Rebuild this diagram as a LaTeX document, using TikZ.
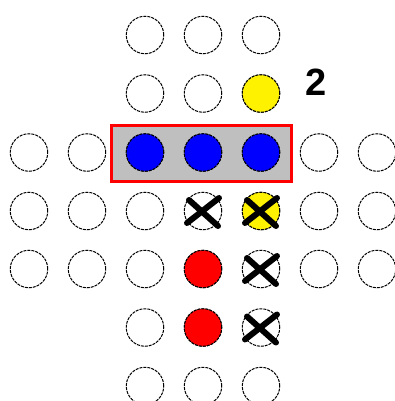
\documentclass[tikz,border=0pt]{standalone}
\usepackage{fontspec}
\setmainfont{Liberation Sans}
\begin{document}
\begin{tikzpicture}[x=1pt,y=-1pt,
  hole/.style={circle,draw=black,line width=1pt,dash pattern=on 3pt off 1pt,minimum size=37.5pt,inner sep=0pt,fill=white},
  xmark/.style={line width=6pt,line cap=round,black},
  selbox/.style={draw=red,line width=3.5pt,fill=black!25}]
\useasboundingbox (0,0) rectangle (395,401);
\node[selbox,minimum width=180pt,minimum height=56pt,inner sep=0pt] (box) at (201.5,153.5) {};
% board
\foreach \r/\y in {0/35,1/93.5,5/327.5,6/386}{
  \foreach \c/\x in {2/145,3/203,4/261}{
    \node[hole] (c\r\c) at (\x,\y) {};
  }
}
\foreach \r/\y in {2/152.5,3/211,4/269}{
  \foreach \c/\x in {0/29,1/87,2/145,3/203,4/261,5/319,6/377}{
    \node[hole] (c\r\c) at (\x,\y) {};
  }
}
% coloured pegs
\node[hole,fill=yellow] at (c14) {};
\node[hole,fill=blue] at (c22) {};
\node[hole,fill=blue] at (c23) {};
\node[hole,fill=blue] at (c24) {};
\node[hole,fill=yellow] at (c34) {};
\node[hole,fill=red] at (c43) {};
\node[hole,fill=red] at (c53) {};
% crosses
\foreach \n in {c33,c34,c44,c54}{
  \draw[xmark] ([shift={(-14,-11)}]\n.center) -- ([shift={(15,15)}]\n.center);
  \draw[xmark] ([shift={(-16,12)}]\n.center) -- ([shift={(16,-13)}]\n.center);
}
\node[font=\bfseries\fontsize{38}{40}\selectfont,inner sep=0pt] (lbl) at (316,82.5) {2};
\end{tikzpicture}
\end{document}
